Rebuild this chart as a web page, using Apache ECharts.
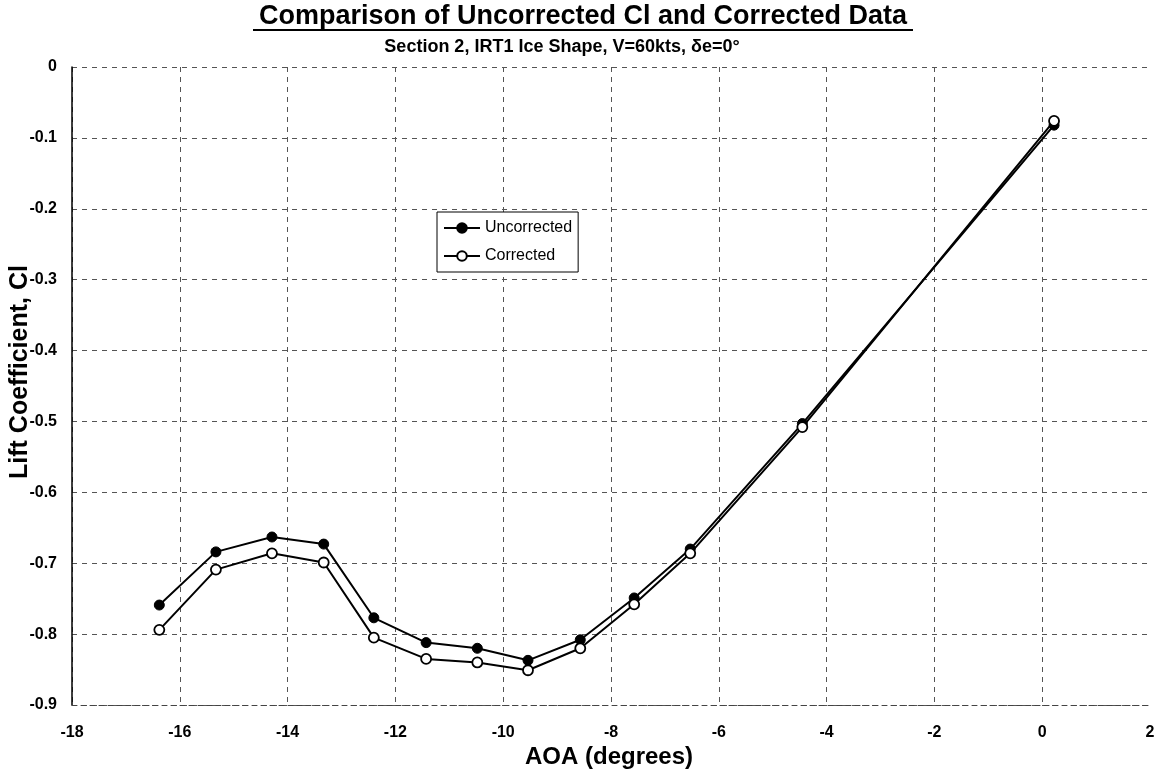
<!DOCTYPE html>
<html>
<head>
<meta charset="utf-8">
<script src="https://cdn.jsdelivr.net/npm/echarts@6/dist/echarts.min.js"></script>
<style>
html,body{margin:0;padding:0;background:#fff;}
#chart{width:1158px;height:774px;}
</style>
</head>
<body>
<div id="chart"></div>
<script>
// ---- data ----
const aoaUncorrected = [-16.38, -15.33, -14.29, -13.33, -12.40, -11.43, -10.48, -9.54, -8.57, -7.57, -6.53, -4.45, 0.22];
const clUncorrected  = [-0.759, -0.684, -0.663, -0.673, -0.777, -0.812, -0.820, -0.837, -0.808, -0.749, -0.680, -0.503, -0.082];
const aoaCorrected   = [-16.38, -15.33, -14.29, -13.33, -12.40, -11.43, -10.48, -9.54, -8.57, -7.57, -6.53, -4.45, 0.22];
const clCorrected    = [-0.794, -0.709, -0.686, -0.699, -0.805, -0.835, -0.840, -0.851, -0.820, -0.758, -0.686, -0.508, -0.076];
const seriesNames = ['Uncorrected', 'Corrected'];
const titleText = 'Comparison of Uncorrected Cl and Corrected Data';
const subtitleText = 'Section 2, IRT1 Ice Shape, V=60kts, \u03B4e=0\u00B0';
const xAxisName = 'AOA (degrees)';
const yAxisName = 'Lift Coefficient, Cl';

const FONT = "'Liberation Sans', Arial, Helvetica, sans-serif";
const chart = echarts.init(document.getElementById('chart'));
const pairs = (xs, ys) => xs.map((x, i) => [x, ys[i]]);

chart.setOption({
  backgroundColor: '#fff',
  animation: false,
  grid: {left: 72, right: 8, top: 67, bottom: 69, containLabel: false},
  graphic: [
    {type: 'text', x: 583, y: 17, style: {text: titleText, font: 'bold 27px ' + FONT, fill: '#000', textAlign: 'center', textVerticalAlign: 'middle'}},
    {type: 'line', shape: {x1: 253, y1: 30, x2: 913, y2: 30}, style: {stroke: '#000', lineWidth: 2}},
    {type: 'text', x: 562, y: 47, style: {text: subtitleText, font: 'bold 18px ' + FONT, fill: '#000', textAlign: 'center', textVerticalAlign: 'middle'}},
    {type: 'text', x: 609, y: 757, style: {text: xAxisName, font: 'bold 24px ' + FONT, fill: '#000', textAlign: 'center', textVerticalAlign: 'middle'}},
    {type: 'text', x: 20, y: 372, rotation: Math.PI / 2, style: {text: yAxisName, font: 'bold 25px ' + FONT, fill: '#000', textAlign: 'center', textVerticalAlign: 'middle'}}
  ],
  legend: {
    orient: 'vertical', left: 437, top: 212,
    data: seriesNames,
    itemWidth: 36, itemHeight: 12, itemGap: 12,
    padding: [8, 6, 8, 6],
    backgroundColor: '#fff', borderColor: '#000', borderWidth: 1,
    textStyle: {fontFamily: FONT, fontSize: 16, color: '#000'}
  },
  xAxis: {
    type: 'value', min: -18, max: 2, interval: 2,
    axisLine: {show: true, onZero: false, lineStyle: {color: '#444', width: 1, type: [5, 4]}},
    axisTick: {show: false},
    axisLabel: {fontFamily: FONT, fontSize: 16, fontWeight: 'bold', color: '#000', margin: 20},
    splitLine: {show: true, showMaxLine: false, lineStyle: {color: '#555', width: 1, type: [5, 5]}}
  },
  yAxis: {
    type: 'value', min: -0.9, max: 0, interval: 0.1,
    axisLine: {show: true, onZero: false, lineStyle: {color: '#000', width: 1.5}},
    axisTick: {show: false},
    axisLabel: {fontFamily: FONT, fontSize: 16, fontWeight: 'bold', color: '#000', margin: 15,
      formatter: v => (Math.abs(v) < 1e-9 ? '0' : v.toFixed(1))},
    splitLine: {show: true, lineStyle: {color: '#555', width: 1, type: [5, 5]}}
  },
  series: [
    {
      name: seriesNames[0], type: 'line', data: pairs(aoaUncorrected, clUncorrected),
      symbol: 'circle', symbolSize: 10, showAllSymbol: true,
      lineStyle: {color: '#000', width: 2},
      itemStyle: {color: '#000', borderColor: '#000', borderWidth: 1}
    },
    {
      name: seriesNames[1], type: 'line', data: pairs(aoaCorrected, clCorrected),
      symbol: 'circle', symbolSize: 10, showAllSymbol: true,
      lineStyle: {color: '#000', width: 2},
      itemStyle: {color: '#fff', borderColor: '#000', borderWidth: 1.8}
    }
  ]
});
</script>
</body>
</html>
